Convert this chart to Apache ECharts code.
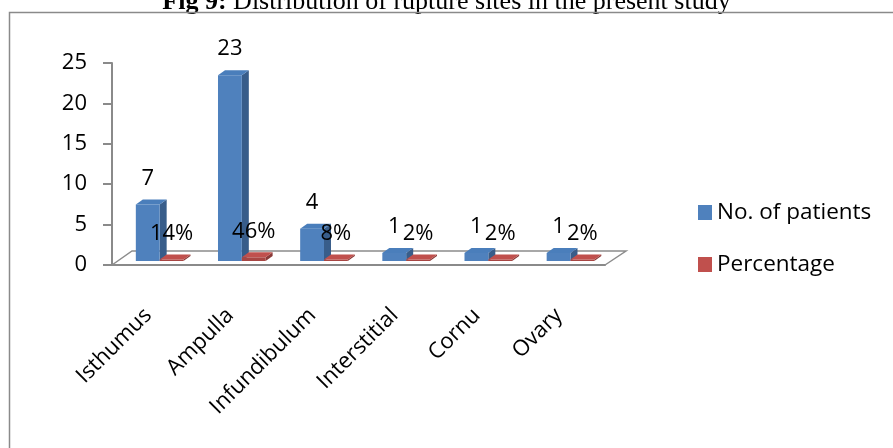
<!DOCTYPE html>
<html>
<head>
<meta charset="utf-8">
<script src="https://cdn.jsdelivr.net/npm/echarts@6/dist/echarts.min.js"></script>
<style>html,body{margin:0;padding:0;background:#fff}#c{width:893px;height:448px}</style>
</head>
<body>
<div id="c"></div>
<script>
const categories = ['Isthumus', 'Ampulla', 'Infundibulum', 'Interstitial', 'Cornu', 'Ovary'];
const patients = [7, 23, 4, 1, 1, 1];
const percentages = [0.14, 0.46, 0.08, 0.02, 0.02, 0.02];
const seriesNames = ['No. of patients', 'Percentage'];
const titleText = 'Distribution of rupture sites in the present study';

const FONT = 'Open Sans';
const FS = 22;
const chart = echarts.init(document.getElementById('c'), null, {renderer: 'canvas'});

function bar3D(offsetFrac, colors, fmt) {
  return function (params, api) {
    const i = api.value(0), v = api.value(1);
    const bw = api.size([1, 0])[0];
    const c = api.coord([i, 0]);
    const base = c[1] - 4;
    let top = api.coord([i, v])[1] - 4;
    if (base - top < 1.5) top = base - 1.5;
    const l = c[0] + offsetFrac * bw, w = 0.29 * bw;
    const dx = 7, dy = 5;
    return {
      type: 'group',
      children: [
        {type: 'polygon', shape: {points: [[l + w, top], [l + w + dx, top - dy], [l + w + dx, base - dy], [l + w, base]]}, style: {fill: colors.side}},
        {type: 'rect', shape: {x: l, y: top, width: w, height: base - top}, style: {fill: colors.front}},
        {type: 'polygon', shape: {points: [[l, top], [l + dx, top - dy], [l + w + dx, top - dy], [l + w, top]]}, style: {fill: colors.top}},
        {type: 'text', x: l + w / 2, y: top - 26, z2: 10, style: {text: fmt(v), fontSize: FS, fontFamily: FONT, fill: '#000', align: 'center', verticalAlign: 'middle'}}
      ]
    };
  };
}

function floor(params, api) {
  if (params.dataIndex !== 0) return null;
  const cs = params.coordSys;
  const x0 = cs.x, x1 = cs.x + cs.width, y0 = cs.y + cs.height;
  return {
    type: 'polyline',
    shape: {points: [[x0, y0], [x0 + 20, y0 - 14], [x1 + 21, y0 - 14], [x1, y0]]},
    style: {stroke: '#8c8c8c', lineWidth: 1.5, fill: null}
  };
}

chart.setOption({
  animation: false,
  title: {
    text: '{b|Fig 9:} ' + titleText,
    left: 'center',
    top: -16,
    textStyle: {
      fontFamily: 'Liberation Serif', fontSize: 26, fontWeight: 'normal', color: '#000',
      rich: {b: {fontFamily: 'Liberation Serif', fontSize: 26, fontWeight: 'bold', color: '#000'}}
    }
  },
  graphic: [{
    type: 'rect', silent: true, z: 100,
    shape: {x: 9.5, y: 12.5, width: 900, height: 450},
    style: {fill: null, stroke: '#8a8a8a', lineWidth: 1.5}
  }],
  legend: {
    orient: 'vertical', left: 693, top: 196,
    itemWidth: 14, itemHeight: 15, itemGap: 29,
    icon: 'rect',
    data: seriesNames,
    textStyle: {fontFamily: FONT, fontSize: 22.5, color: '#000'}
  },
  grid: {left: 112, right: 288, top: 63, bottom: 183, containLabel: false},
  xAxis: {
    type: 'category', data: categories,
    axisLine: {lineStyle: {color: '#8a8a8a', width: 2}},
    axisTick: {length: 8, lineStyle: {color: '#8a8a8a', width: 2}},
    axisLabel: {rotate: 45, margin: 42, padding: [0, 7, 0, 0], fontFamily: FONT, fontSize: FS, color: '#000', interval: 0}
  },
  yAxis: {
    type: 'value', min: 0, max: 25, interval: 5,
    axisLine: {show: true, lineStyle: {color: '#8a8a8a', width: 2}},
    axisTick: {show: true, length: 9, lineStyle: {color: '#8a8a8a', width: 2}},
    splitLine: {show: false},
    axisLabel: {margin: 25, fontFamily: FONT, fontSize: FS, color: '#000'}
  },
  series: [
    {type: 'custom', name: '_floor', silent: true, renderItem: floor, data: [[0, 0]], z: 1},
    {type: 'custom', name: seriesNames[0], itemStyle: {color: '#4F81BD'}, z: 2,
     renderItem: bar3D(-0.21, {front: '#4F81BD', side: '#385D8A', top: '#4A7EBB'}, v => String(v)),
     encode: {x: 0, y: 1},
     data: patients.map((v, i) => [i, v])},
    {type: 'custom', name: seriesNames[1], itemStyle: {color: '#C0504D'}, z: 3,
     renderItem: bar3D(0.08, {front: '#A84643', side: '#8B3A38', top: '#C0504D'}, v => Math.round(v * 100) + '%'),
     encode: {x: 0, y: 1},
     data: percentages.map((v, i) => [i, v])}
  ]
});
</script>
</body>
</html>
